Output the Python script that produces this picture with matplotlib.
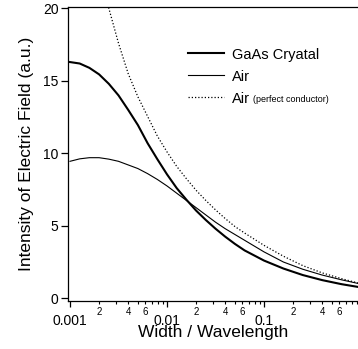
import numpy as np
import matplotlib
matplotlib.use("Agg")
import matplotlib.pyplot as plt
import matplotlib.ticker as mticker

plt.rcParams['font.family'] = ['Liberation Sans', 'DejaVu Sans']

# log10(width / wavelength) and field values
logx_gaas = [-3.0, -2.9, -2.8, -2.7, -2.6, -2.5, -2.4, -2.3, -2.2, -2.1, -2.0,
             -1.9, -1.8, -1.7, -1.6, -1.5, -1.4, -1.3, -1.2, -1.0, -0.8,
             -0.6, -0.4, -0.2, -0.03]
gaas = [16.3, 16.2, 15.9, 15.45, 14.8, 14.0, 13.0, 11.95, 10.7, 9.6, 8.55,
        7.6, 6.8, 6.05, 5.4, 4.8, 4.25, 3.75, 3.3, 2.6, 2.05,
        1.6, 1.25, 0.97, 0.78]

logx_air = logx_gaas
air = [9.45, 9.62, 9.7, 9.7, 9.6, 9.45, 9.2, 8.95, 8.6, 8.2, 7.75,
       7.25, 6.75, 6.25, 5.75, 5.25, 4.8, 4.4, 4.0, 3.2, 2.5,
       2.0, 1.6, 1.27, 1.02]

logx_pec = [-2.62, -2.5, -2.4, -2.3, -2.2, -2.1, -2.0, -1.9, -1.8, -1.7,
            -1.6, -1.5, -1.4, -1.3, -1.2, -1.0, -0.8, -0.6, -0.4, -0.2, -0.03]
pec = [20.5, 17.6, 15.5, 13.9, 12.55, 11.2, 10.1, 9.1, 8.25, 7.45,
       6.75, 6.1, 5.5, 4.95, 4.5, 3.65, 2.9, 2.25, 1.75, 1.35, 1.05]

x_gaas = 10 ** np.array(logx_gaas)
x_air = 10 ** np.array(logx_air)
x_pec = 10 ** np.array(logx_pec)

W, H = 358, 349
fig = plt.figure(figsize=(W / 100, H / 100), dpi=100)
ax = fig.add_axes([68.3 / W, (H - 300.7) / H, 1 - 68.3 / W, (300.7 - 7) / H])

ax.plot(x_gaas, gaas, c='k', lw=1.5, label='GaAs Cryatal')
ax.plot(x_air, air, c='k', lw=0.8, label='Air')
ax.plot(x_pec, pec, c='k', lw=0.9, ls=(0, (1, 1.6)), label='Air')

ax.set_xscale('log')
ax.set_xlim(10 ** -3.0175, 10 ** -0.031)
ax.set_ylim(-0.17, 20.1)

ax.spines['right'].set_visible(False)
for s in ['left', 'bottom', 'top']:
    ax.spines[s].set_linewidth(0.9)

ax.set_yticks([0, 5, 10, 15, 20])
ax.xaxis.set_major_locator(mticker.FixedLocator([0.001, 0.01, 0.1]))
ax.xaxis.set_major_formatter(mticker.FixedFormatter(['0.001', '0.01', '0.1']))
minors = [m * d for d in [0.001, 0.01, 0.1] for m in range(2, 10)]
ax.xaxis.set_minor_locator(mticker.FixedLocator(minors))


def minor_fmt(v, pos):
    m = round(v / 10 ** np.floor(np.log10(v) + 1e-9))
    return str(m) if m in (2, 4, 6) else ''


ax.xaxis.set_minor_formatter(mticker.FuncFormatter(minor_fmt))
ax.tick_params(axis='x', which='major', direction='out', length=4.3, width=0.9,
               labelsize=10, pad=5)
ax.tick_params(axis='x', which='minor', direction='out', length=2.5, width=0.8,
               labelsize=7, pad=1.8)
ax.tick_params(axis='y', which='major', direction='out', length=5, width=0.9,
               labelsize=10, pad=2)

ax.set_xlabel('Width / Wavelength', fontsize=12.5)
ax.xaxis.set_label_coords(0.5, -0.083)
ax.set_ylabel('Intensity of Electric Field (a.u.)', fontsize=12.5)
ax.yaxis.set_label_coords(-0.118, 0.5)

leg = ax.legend(loc='upper left', bbox_to_anchor=(0.413, 0.862), frameon=False,
                fontsize=10.5, handlelength=2.5, handletextpad=0.55,
                labelspacing=0.55, borderpad=0, borderaxespad=0)

# small "(perfect conductor)" after the third legend entry
fig.canvas.draw()
bb = leg.get_texts()[2].get_window_extent()
fig.text((bb.x1 + 3) / W, (bb.y0 + 3.2) / H, '(perfect conductor)',
         fontsize=6.5, ha='left', va='baseline')

fig.savefig('out.png', dpi=100)
